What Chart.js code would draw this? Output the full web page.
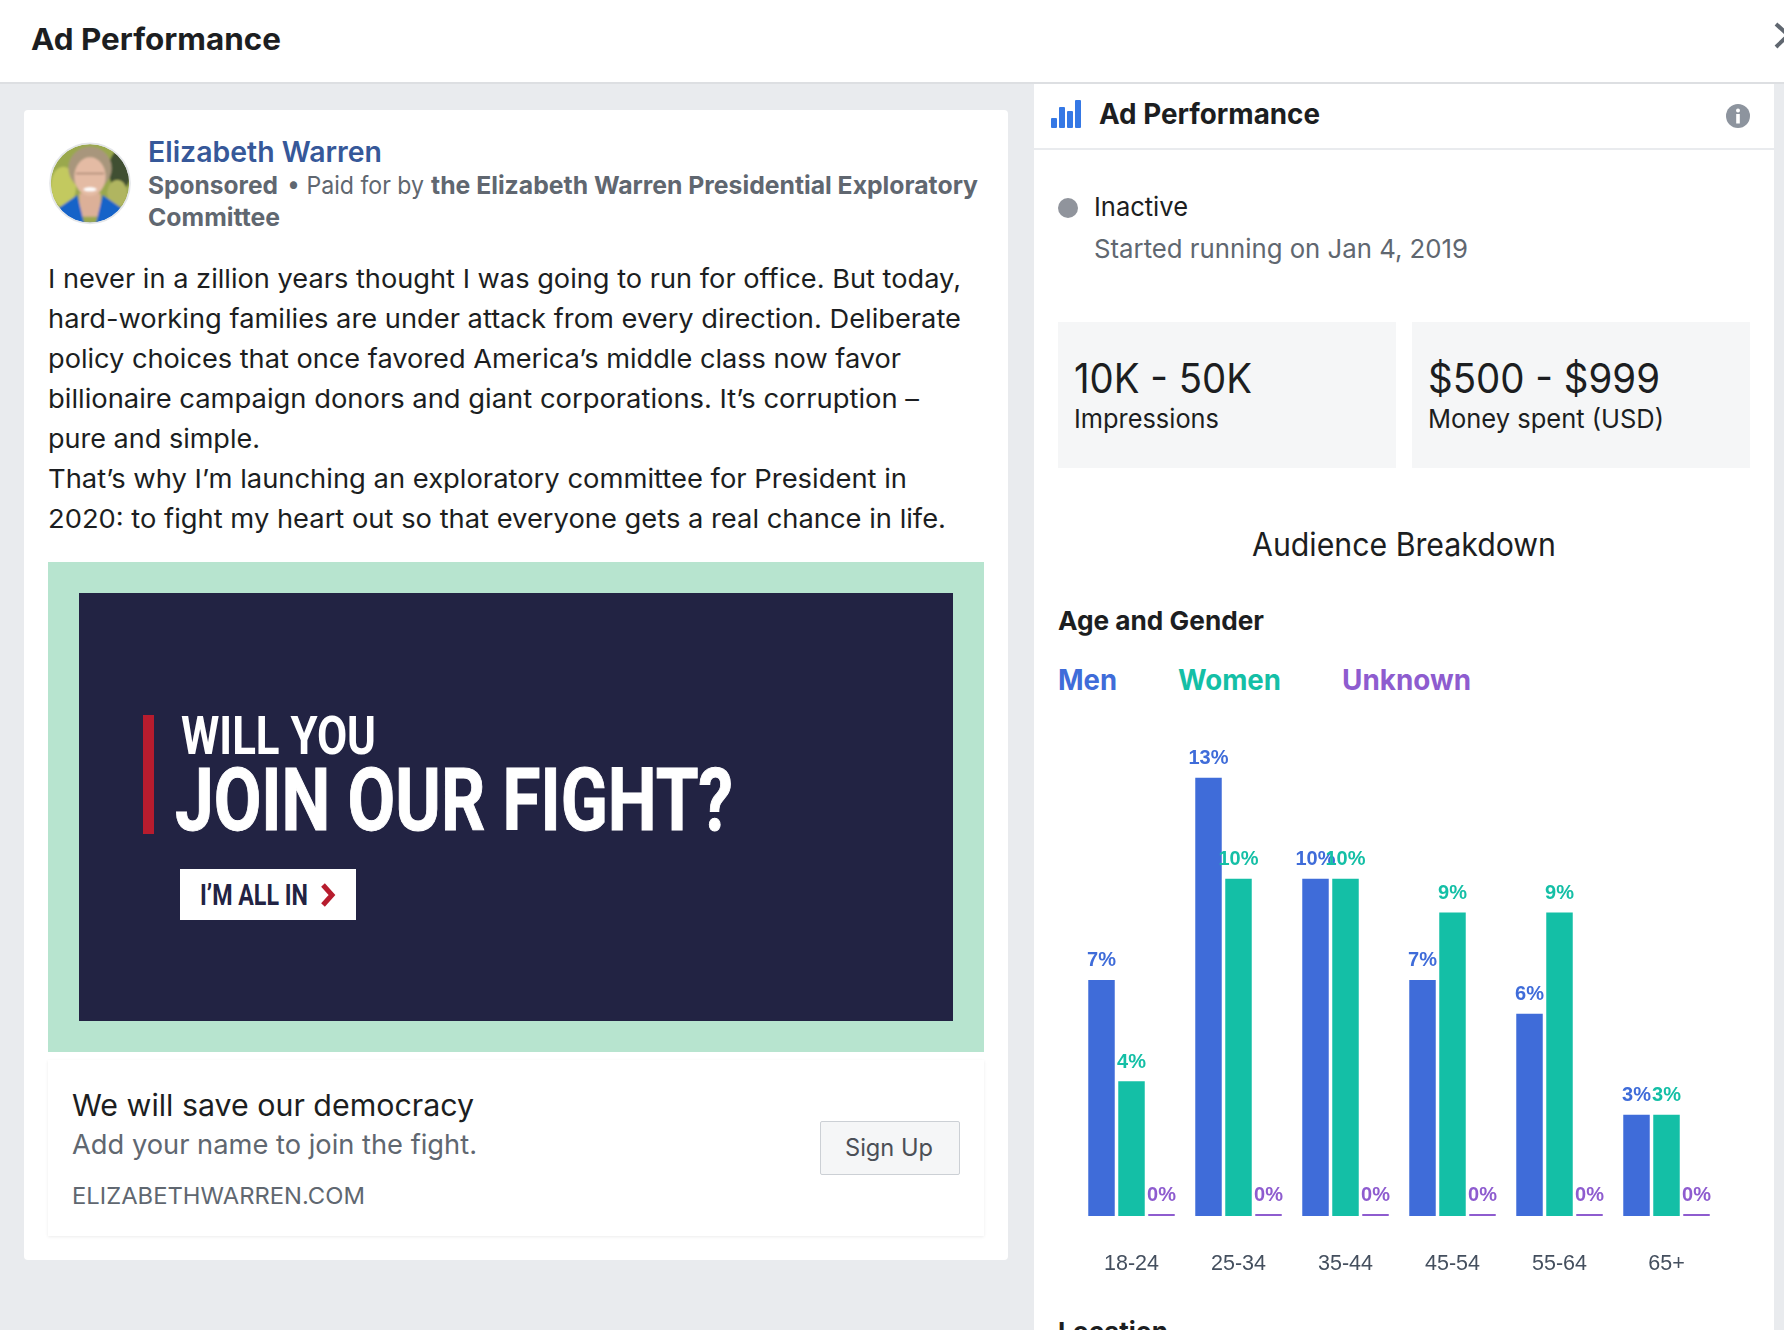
<!DOCTYPE html>
<html>
<head>
<meta charset="utf-8">
<title>Ad Performance</title>
<script src="https://cdn.jsdelivr.net/npm/chart.js@4"></script>
<style>
html, body { margin: 0; padding: 0; }
body { width: 1784px; height: 1330px; overflow: hidden; position: relative; background: #e9ebee; font-family: Inter, "Noto Sans", sans-serif; }
.box { position: absolute; }
.t { position: absolute; white-space: nowrap; line-height: 1; transform-origin: 0 50%; transform: translateY(-50%); }
.dark { color: #1c1e21; }
.grey { color: #606770; }
.ad { font-family: "Liberation Sans Narrow", Roboto; font-weight: 700; line-height: .75; }
#chartWrap { position: absolute; left: 1078px; top: 717px; width: 642px; height: 573px; }
</style>
</head>
<body>

<!-- top bar -->
<div class="box" style="left:0;top:0;width:1784px;height:82px;background:#fff"></div>
<div class="box" style="left:0;top:82px;width:1784px;height:2px;background:#dddfe2"></div>
<div class="t dark" data-w="250" style="left:31px;top:39px;font-size:30px;font-weight:700">Ad Performance</div>
<svg class="box" style="left:1770px;top:20px" width="14" height="34"><path d="M6 4 L30 26 M6 27 L30 4" stroke="#606770" stroke-width="4" fill="none"/></svg>

<!-- left card -->
<div class="box" style="left:24px;top:110px;width:984px;height:1150px;background:#fff;border-radius:4px"></div>
<svg class="box" style="left:40px;top:130px" width="100" height="100" viewBox="0 0 300 300">
  <defs>
    <clipPath id="av"><circle cx="150" cy="160" r="118"/></clipPath>
    <filter id="soft"><feGaussianBlur stdDeviation="3"/></filter>
  </defs>
  <g clip-path="url(#av)">
    <g filter="url(#soft)">
      <rect width="300" height="300" fill="#9aa84e"/>
      <ellipse cx="70" cy="170" rx="38" ry="60" fill="#c3c95f"/>
      <ellipse cx="240" cy="120" rx="34" ry="60" fill="#3f5030"/>
      <ellipse cx="232" cy="190" rx="30" ry="40" fill="#b0b561"/>
      <ellipse cx="150" cy="115" rx="65" ry="65" fill="#a8967c"/>
      <rect x="118" y="190" width="64" height="70" fill="#dcb098"/>
      <ellipse cx="150" cy="140" rx="47" ry="58" fill="#e4bba4"/>
      <ellipse cx="150" cy="178" rx="20" ry="6" fill="#fff"/>
      <rect x="108" y="128" width="84" height="5" fill="#b08d78"/>
      <path d="M50 300 L55 235 L112 195 L132 280 L168 280 L188 195 L245 235 L250 300 Z" fill="#1264c8"/>
    </g>
  </g>
  <circle cx="150" cy="160" r="120" fill="none" stroke="#e4e6e9" stroke-width="5"/>
</svg>
<div class="t" data-w="234" style="left:148px;top:152px;font-size:28px;font-weight:600;color:#365899">Elizabeth Warren</div>
<div class="t grey" data-w="130" style="left:148px;top:185px;font-size:24.5px;font-weight:700">Sponsored</div>
<div class="t grey" data-w="137" style="left:287px;top:185px;font-size:24.5px">• Paid for by</div>
<div class="t grey" data-w="547" style="left:431px;top:185px;font-size:24.5px;font-weight:700">the Elizabeth Warren Presidential Exploratory</div>
<div class="t grey" data-w="132" style="left:148px;top:217px;font-size:24.5px;font-weight:700">Committee</div>

<div class="t dark" data-w="913" style="left:48px;top:279px;font-size:26px">I never in a zillion years thought I was going to run for office. But today,</div>
<div class="t dark" data-w="913" style="left:48px;top:319px;font-size:26px">hard-working families are under attack from every direction. Deliberate</div>
<div class="t dark" data-w="853" style="left:48px;top:359px;font-size:26px">policy choices that once favored America’s middle class now favor</div>
<div class="t dark" data-w="871" style="left:48px;top:399px;font-size:26px">billionaire campaign donors and giant corporations. It’s corruption –</div>
<div class="t dark" data-w="212" style="left:48px;top:439px;font-size:26px">pure and simple.</div>
<div class="t dark" data-w="859" style="left:48px;top:479px;font-size:26px">That’s why I’m launching an exploratory committee for President in</div>
<div class="t dark" data-w="898" style="left:48px;top:519px;font-size:26px">2020: to fight my heart out so that everyone gets a real chance in life.</div>

<!-- ad image -->
<div class="box" style="left:48px;top:562px;width:936px;height:490px;background:#b7e4cf"></div>
<div class="box" style="left:79px;top:593px;width:874px;height:428px;background:#222343"></div>
<div class="box" style="left:143px;top:715px;width:11px;height:119px;background:#b71c2e"></div>
<div class="t ad" data-w="195" style="left:181px;top:736px;font-size:54px;color:#fff">WILL YOU</div>
<div class="t ad" data-w="558" style="left:175px;top:801px;font-size:87px;color:#fff;-webkit-text-stroke:1px #fff">JOIN OUR FIGHT?</div>
<div class="box" style="left:180px;top:869px;width:176px;height:51px;background:#fff"></div>
<div class="t ad" data-w="108" style="left:200px;top:895px;font-size:30px;color:#222343">I’M ALL IN</div>
<svg class="box" style="left:320px;top:882px" width="17" height="26"><path d="M3 3 L12 13 L3 23" stroke="#b71c2e" stroke-width="5" fill="none"/></svg>

<!-- link card -->
<div class="box" style="left:48px;top:1060px;width:936px;height:176px;background:#fff;box-shadow:0 1px 3px rgba(0,0,0,.08)"></div>
<div class="t dark" data-w="402" style="left:72px;top:1105px;font-size:30px">We will save our democracy</div>
<div class="t grey" data-w="405" style="left:72px;top:1144px;font-size:27px">Add your name to join the fight.</div>
<div class="t grey" data-w="293" style="left:72px;top:1196px;font-size:23px">ELIZABETHWARREN.COM</div>
<div class="box" style="left:820px;top:1121px;width:138px;height:52px;background:#f5f6f7;border:1px solid #ccd0d5;border-radius:2px"></div>
<div class="t" data-w="88" style="left:845px;top:1148px;font-size:24px;color:#4b4f56">Sign Up</div>

<!-- right panel -->
<div class="box" style="left:1034px;top:84px;width:740px;height:1246px;background:#fff"></div>
<div class="box" style="left:1034px;top:148px;width:740px;height:2px;background:#e9ebee"></div>
<div class="box" style="left:1051px;top:118px;width:6px;height:10px;background:#3578e5;border-radius:1px"></div>
<div class="box" style="left:1059px;top:107px;width:6px;height:21px;background:#3578e5;border-radius:1px"></div>
<div class="box" style="left:1067px;top:111px;width:6px;height:17px;background:#3578e5;border-radius:1px"></div>
<div class="box" style="left:1075px;top:100px;width:6px;height:28px;background:#3578e5;border-radius:1px"></div>
<div class="t dark" data-w="221" style="left:1099px;top:114px;font-size:28px;font-weight:700">Ad Performance</div>
<svg class="box" style="left:1726px;top:104px" width="24" height="24"><circle cx="12" cy="12" r="12" fill="#8d949e"/><circle cx="12" cy="6.5" r="2" fill="#fff"/><rect x="10.2" y="10" width="3.6" height="9.5" fill="#fff"/></svg>

<div class="box" style="left:1058px;top:198px;width:20px;height:20px;border-radius:50%;background:#90949c"></div>
<div class="t dark" data-w="94" style="left:1094px;top:207px;font-size:26px">Inactive</div>
<div class="t grey" data-w="374" style="left:1094px;top:249px;font-size:26px">Started running on Jan 4, 2019</div>

<div class="box" style="left:1058px;top:322px;width:338px;height:146px;background:#f5f6f7"></div>
<div class="box" style="left:1412px;top:322px;width:338px;height:146px;background:#f5f6f7"></div>
<div class="t dark" data-w="178" style="left:1074px;top:378px;font-size:41px">10K - 50K</div>
<div class="t dark" data-w="145" style="left:1074px;top:419px;font-size:26px">Impressions</div>
<div class="t dark" data-w="232" style="left:1428px;top:378px;font-size:41px">$500 - $999</div>
<div class="t dark" data-w="236" style="left:1428px;top:419px;font-size:26px">Money spent (USD)</div>

<div class="t dark" data-w="304" style="left:1252px;top:545px;font-size:32px">Audience Breakdown</div>
<div class="t dark" data-w="206" style="left:1058px;top:621px;font-size:26px;font-weight:700">Age and Gender</div>

<div class="t" data-w="59" style="left:1058px;top:680px;font-size:28px;font-weight:700;color:#3f6cd9">Men</div>
<div class="t" data-w="103" style="left:1178px;top:680px;font-size:28px;font-weight:700;color:#14bfa6">Women</div>
<div class="t" data-w="129" style="left:1342px;top:680px;font-size:28px;font-weight:700;color:#8e5ccf">Unknown</div>

<div id="chartWrap"><canvas id="ageChart" width="642" height="573"></canvas></div>

<div class="t dark" data-w="110" style="left:1058px;top:1332px;font-size:26px;font-weight:700">Location</div>

<script>
// chart data, in percent
const ageGroups = ["18-24", "25-34", "35-44", "45-54", "55-64", "65+"];
const menPct = [7, 13, 10, 7, 6, 3];
const womenPct = [4, 10, 10, 9, 9, 3];
const unknownPct = [0, 0, 0, 0, 0, 0];

const menColor = "#3f6cd9";
const womenColor = "#14bfa6";
const unknownColor = "#8e5ccf";

// squeeze the layout text to the width it has in the screenshot
document.querySelectorAll(".t").forEach(el => {
    const k = Number(el.dataset.w) / el.getBoundingClientRect().width;
    el.style.transform = `translateY(-50%) scaleX(${k})`;
});

// percent label above each bar
const barLabels = {
    id: "barLabels",
    afterDatasetsDraw(chart) {
        const ctx = chart.ctx;
        ctx.save();
        ctx.font = "bold 20px 'Liberation Sans'";
        ctx.textAlign = "center";
        ctx.textBaseline = "alphabetic";
        chart.data.datasets.forEach((ds, i) => {
            ctx.fillStyle = ds.backgroundColor;
            chart.getDatasetMeta(i).data.forEach((bar, j) => {
                ctx.fillText(ds.data[j] + "%", bar.x, Math.min(bar.y, bar.base) - 13.5);
            });
        });
        ctx.restore();
    }
};

function makeSet(label, data, color) {
    return {
        label: label,
        data: data,
        backgroundColor: color,
        borderWidth: 0,
        minBarLength: 2,
        categoryPercentage: 0.841,
        barPercentage: 0.883
    };
}

new Chart(document.getElementById("ageChart"), {
    type: "bar",
    data: {
        labels: ageGroups,
        datasets: [
            makeSet("Men", menPct, menColor),
            makeSet("Women", womenPct, womenColor),
            makeSet("Unknown", unknownPct, unknownColor)
        ]
    },
    options: {
        responsive: false,
        animation: false,
        layout: { padding: 0 },
        plugins: { legend: { display: false }, tooltip: { enabled: false } },
        scales: {
            x: {
                // the tick gap is done with a clear tick mark, ticks.padding would inset the plot
                grid: { display: false, drawTicks: true, tickLength: 35, tickColor: "transparent" },
                border: { display: false },
                afterFit(scale) { scale.height = 74; },
                ticks: {
                    padding: 0,
                    color: "#444f5e",
                    font: { family: "'Liberation Sans'", size: 21.5 },
                    maxRotation: 0
                }
            },
            y: { display: false, min: 0, max: 14.8 }
        }
    },
    plugins: [barLabels]
});
</script>
</body>
</html>
